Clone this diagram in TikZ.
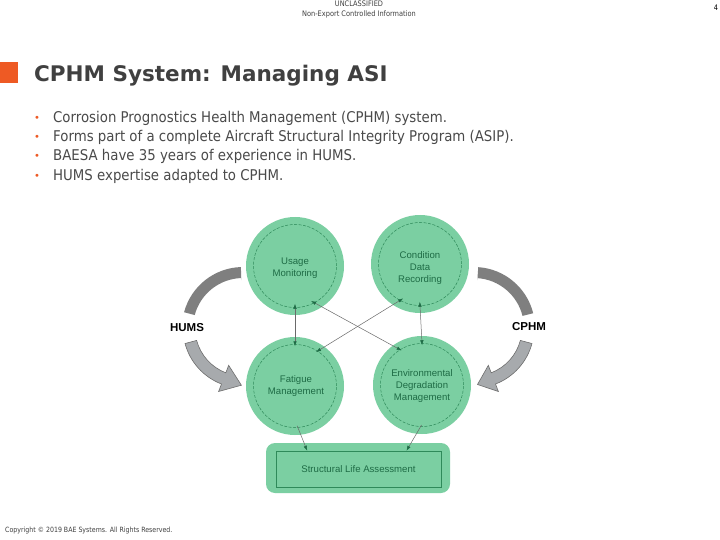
\documentclass[tikz,border=0pt]{standalone}
\usepackage{fontspec}
\usetikzlibrary{calc,arrows.meta}
\newfontfamily\vsans{DejaVu Sans}
\newfontfamily\tsans[FakeStretch=0.9]{DejaVu Sans}
\newfontfamily\ssans[FakeStretch=0.87]{DejaVu Sans}
\newfontfamily\asans{Liberation Sans}
\definecolor{mint}{HTML}{7BCFA2}
\definecolor{dgreen}{HTML}{2F8A5A}
\definecolor{tgreen}{HTML}{1E6B45}
\definecolor{orng}{HTML}{EE5A24}
\definecolor{txt}{HTML}{404040}
\definecolor{btxt}{HTML}{4A4A4A}
\definecolor{darc}{HTML}{7F7F7F}
\definecolor{larc}{HTML}{A7AAAD}
\definecolor{larcline}{HTML}{6E6E6E}
\definecolor{conline}{HTML}{6A6A6A}
\tikzset{
  circ/.style={circle, fill=mint, minimum size=98pt, inner sep=0},
  icirc/.style={circle, draw=dgreen, line width=0.5pt, dash pattern=on 3pt off 1.5pt, minimum size=83pt, inner sep=0},
  ctext/.style={align=center, text=tgreen, font=\asans\fontsize{9.6}{12.2}\selectfont, inner sep=0},
  conn/.style={draw=conline, line width=0.5pt},
  tip/.style={-{Latex[length=5pt,width=3.5pt,color=tgreen]}},
  tips/.style={{Latex[length=5pt,width=3.5pt,color=tgreen]}-{Latex[length=5pt,width=3.5pt,color=tgreen]}},
  bullet/.style={anchor=base west, inner sep=0, text=btxt, font=\tsans\fontsize{14.8}{16}\selectfont},
  bdot/.style={anchor=base west, inner sep=0, text=orng, font=\vsans\fontsize{10}{12}\selectfont},
  side/.style={font=\asans\bfseries\fontsize{11.5}{13}\selectfont, text=black, inner sep=0},
  small/.style={font=\ssans\fontsize{7.6}{8}\selectfont, text=txt, inner sep=0}
}
\begin{document}
\begin{tikzpicture}[x=1pt,y=-1pt]
\useasboundingbox (0,0) rectangle (720,540);
\fill[white] (0,0) rectangle (720,540);

% header / footer
\node[small] (h1) at (359,4) {UNCLASSIFIED};
\node[small] (h2) at (359,14) {Non-Export Controlled Information};
\node[small, anchor=west, font=\ssans\fontsize{7.2}{8}\selectfont] (cpy) at (5,531) {Copyright © 2019 BAE Systems. All Rights Reserved.};
\node[small, text=black] (pg) at (716,8) {4};

% title
\fill[orng] (0,62) rectangle (18,83);
\node[anchor=base west, inner sep=0, text=txt, font=\vsans\bfseries\fontsize{21.5}{24}\selectfont] (title) at (34,82) {CPHM System: Managing ASI};

% bullets
\foreach \y/\t [count=\i] in {122.5/{Corrosion Prognostics Health Management (CPHM) system.},
  141.5/{Forms part of a complete Aircraft Structural Integrity Program (ASIP).},
  161/{BAESA have 35 years of experience in HUMS.},
  180.5/{HUMS expertise adapted to CPHM.}}{
  \node[bdot] (d\i) at (34,\y-1) {•};
  \node[bullet] (b\i) at (53,\y) {\t};
}

% gray curved arrows
\coordinate (CL) at (243,328);
\coordinate (CR) at (474,328);
\fill[darc] ($(CL)+(-92:48)$) -- ($(CL)+(-92:61)$) arc[start angle=-92, end angle=-165, radius=61]
  -- ($(CL)+(-165:50)$) arc[start angle=-165, end angle=-92, radius=50] -- cycle;
\fill[darc] ($(CR)+(-86:48)$) -- ($(CR)+(-86:61)$) arc[start angle=-86, end angle=-14, radius=61]
  -- ($(CR)+(-14:50)$) arc[start angle=-14, end angle=-86, radius=50] -- cycle;
\filldraw[fill=larc, draw=larcline, line width=0.6pt]
  ($(CL)+(165:48)$) -- ($(CL)+(165:60)$) arc[start angle=165, end angle=111, radius=60]
  -- ($(CL)+(111:68)$) -- ($(CL)+(111:54)+(21:19)$) -- ($(CL)+(111:40)$) -- ($(CL)+(111:48)$)
  arc[start angle=111, end angle=165, radius=48] -- cycle;
\filldraw[fill=larc, draw=larcline, line width=0.6pt]
  ($(CR)+(15:48)$) -- ($(CR)+(15:60)$) arc[start angle=15, end angle=69, radius=60]
  -- ($(CR)+(69:68)$) -- ($(CR)+(69:54)+(159:17)$) -- ($(CR)+(69:40)$) -- ($(CR)+(69:48)$)
  arc[start angle=69, end angle=15, radius=48] -- cycle;
\node[side] (hums) at (187,328) {HUMS};
\node[side] (cphm) at (529,327) {CPHM};

% circles
\node[circ] (um) at (295,266) {};
\node[circ] (cd) at (420,264) {};
\node[circ] (fm) at (295,386) {};
\node[circ] (em) at (422,385) {};
\node[icirc] (umi) at (295,266) {};
\node[icirc] (cdi) at (420,264) {};
\node[icirc] (fmi) at (295,386) {};
\node[icirc] (emi) at (422,385) {};
\node[ctext] (umt) at (295,268) {Usage\\Monitoring};
\node[ctext] (cdt) at (420,268) {Condition\\Data\\Recording};
\node[ctext] (fmt) at (296,386) {Fatigue\\Management};
\node[ctext] (emt) at (422,386) {Environmental\\Degradation\\Management};

% structural life assessment box
\node[fill=mint, rounded corners=9pt, minimum width=184pt, minimum height=50pt, inner sep=0] (sla) at (358,468) {};
\node[draw=dgreen, line width=0.5pt, minimum width=165pt, minimum height=36pt, inner sep=0, ctext] (slai) at (358.5,469) {Structural Life Assessment};

% connectors
\draw[conn, tips, shorten <=-4pt, shorten >=-2pt] (umi.south) -- (fmi.north);
\draw[conn, tips, shorten <=-4pt, shorten >=-2pt] (cdi.south) -- (emi.north);
\draw[conn, tips, shorten <=-4pt, shorten >=-2pt] (umi.-62) -- (emi.122);
\draw[conn, tips, shorten <=-4pt, shorten >=-2pt] (cdi.-119) -- (fmi.57);
\draw[conn, tip, shorten <=-2pt] (fmi.-86) -- ($(slai.north west)!0.19!(slai.north east)$);
\draw[conn, tip, shorten <=-2pt] (emi.-92) -- ($(slai.north west)!0.79!(slai.north east)$);
\end{tikzpicture}
\end{document}
